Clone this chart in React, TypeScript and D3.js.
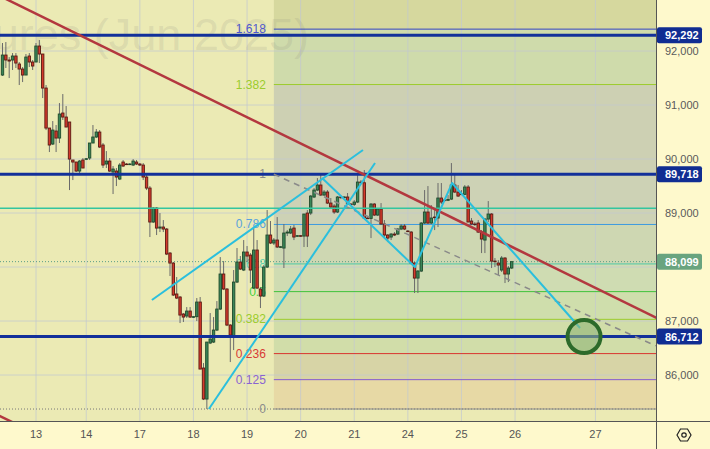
import React, { useEffect } from "react";
import * as d3 from "d3";

const W = 710;
const H = 449;
const PLOT_R = 656;
const PLOT_B = 421;

// OHLC candles, one array per trading day (Mar 2025, hourly)
const day12 = [
  [91555, 92148, 91537, 91925], [91925, 92166, 91685, 91833], [91833, 91888, 91499, 91814],
  [91833, 91962, 91648, 91907], [91907, 91962, 91685, 91777], [91759, 91796, 91370, 91666],
  [91666, 91703, 91425, 91555], [91555, 91944, 91555, 91888], [91907, 91962, 91703, 91796],
  [91796, 91833, 91648, 91722],
];
const day13 = [
  [91796, 92148, 91796, 92092], [92092, 92203, 91777, 91944], [91944, 91944, 91129, 91314],
  [91314, 91370, 90536, 90573], [90573, 90573, 90129, 90259], [90277, 90703, 90259, 90536],
  [90518, 90629, 90129, 90388], [90388, 91036, 90296, 90833], [90851, 91203, 90722, 90777],
  [90777, 90981, 90592, 90592], [90685, 90685, 89425, 89999], [89981, 89981, 89610, 89944],
  [89944, 89944, 89759, 89777], [89777, 89981, 89740, 89962], [89981, 90018, 89833, 89833],
];
const day14 = [
  [89999, 90018, 89981, 90005], [90018, 90296, 89981, 90296], [90296, 90629, 90296, 90407],
  [90407, 90555, 90388, 90499], [90499, 90536, 90203, 90222], [90259, 90296, 89833, 89888],
  [89907, 90147, 89833, 89962], [89962, 90018, 89759, 89777], [89759, 89870, 89351, 89814],
  [89777, 89833, 89499, 89666], [89629, 89925, 89610, 89888], [89944, 89981, 89851, 89870],
  [89907, 89925, 89888, 89900], [89900, 89925, 89888, 89907], [89888, 89999, 89870, 89962],
  [89944, 89981, 89888, 89907],
];
const day17 = [
  [89907, 89925, 89870, 89888], [89888, 89925, 89610, 89666], [89666, 89740, 89425, 89462],
  [89462, 89499, 88555, 88833], [88833, 89110, 88814, 89092], [89092, 89110, 88592, 88721],
  [88721, 88999, 88647, 88740], [88740, 88870, 88647, 88703], [88703, 88721, 88221, 88240],
  [88258, 88277, 87833, 88073], [88073, 88092, 87462, 87481], [87500, 87814, 87406, 87425],
  [87444, 87462, 86962, 87110], [87129, 87147, 86981, 87073], [87092, 87258, 87055, 87184],
  [87184, 87258, 87055, 87073],
];
const day18 = [
  [87073, 87092, 87055, 87080], [87080, 87425, 86999, 87351], [87351, 87444, 86110, 86110],
  [86129, 86221, 85536, 85555], [85555, 85555, 85370, 86610], [86592, 87147, 86573, 86666],
  [86610, 87073, 86592, 86832], [86832, 87369, 86814, 87221], [87221, 88184, 87203, 87870],
  [87870, 88110, 87573, 87592], [87592, 87610, 86906, 86925], [86925, 86943, 86240, 86740],
  [86703, 87944, 86462, 87721], [87721, 88351, 87703, 88092], [88092, 88203, 87944, 87962],
  [87944, 88499, 87925, 88277],
];
const day19 = [
  [88277, 88388, 88092, 88203], [88221, 88258, 87703, 87944], [87610, 88721, 87592, 88314],
  [88314, 88499, 87592, 87610], [87592, 87629, 87240, 87462], [87462, 88036, 87444, 87999],
  [87999, 89055, 87981, 88592], [88592, 88851, 88425, 88444], [88444, 88536, 88407, 88499],
  [88499, 88925, 88351, 88370], [88370, 88388, 88351, 88375], [88351, 88796, 87981, 88629],
  [88629, 88684, 88573, 88647], [88629, 88759, 88610, 88703], [88721, 88777, 88499, 88555],
  [88573, 88592, 88555, 88580],
];
const day20 = [
  [88580, 88592, 88555, 88573], [88573, 88981, 88370, 88981], [88999, 89055, 88370, 88573],
  [88999, 89333, 88962, 89314], [89296, 89462, 89277, 89425], [89425, 89647, 89406, 89518],
  [89518, 89740, 89314, 89333], [89333, 89425, 89314, 89388], [89388, 89425, 89166, 89184],
  [89184, 89277, 89092, 89110], [89129, 89166, 88981, 89018], [89018, 89314, 88999, 89296],
  [89296, 89333, 89258, 89290], [89290, 89314, 89277, 89296], [89296, 89370, 89147, 89166],
  [89166, 89184, 89147, 89160],
];
const day21 = [
  [89160, 89240, 89129, 89203], [89203, 89740, 89184, 89573], [89573, 89610, 89536, 89560],
  [89560, 89796, 88888, 88907], [88907, 88925, 88888, 88900], [88900, 89184, 88536, 89166],
  [89166, 89184, 88944, 88962], [88962, 89092, 88944, 89073], [89073, 89184, 88777, 88796],
  [88796, 88870, 88536, 88592], [88592, 88610, 88462, 88536], [88555, 88629, 88499, 88610],
  [88610, 88647, 88573, 88592], [88610, 88721, 88592, 88703], [88703, 88796, 88684, 88759],
  [88759, 88796, 88684, 88703],
];
const day24 = [
  [88666, 88684, 88647, 88660], [88647, 88666, 88055, 88073], [88073, 88092, 87518, 87795],
  [87795, 87944, 87518, 87925], [87925, 88833, 87907, 88814], [88814, 89425, 88796, 89018],
  [89018, 89499, 88796, 88814], [88814, 89147, 88796, 88907], [88925, 89055, 88684, 88920],
  [88907, 89555, 88740, 89277], [89277, 89555, 89166, 89203], [89240, 89258, 89221, 89235],
  [89235, 89333, 89221, 89250], [89258, 89925, 89240, 89518], [89518, 89703, 89370, 89388],
  [89388, 89518, 89296, 89314],
];
const day25 = [
  [89351, 89425, 89333, 89345], [89345, 89518, 89333, 89481], [89481, 89518, 88833, 88833],
  [88851, 88907, 88777, 88796], [88796, 88833, 88759, 88790], [88814, 88870, 88629, 88647],
  [88647, 88684, 88258, 88518], [88499, 88907, 88258, 88888], [88888, 89221, 88833, 88981],
  [88981, 88999, 87981, 88110], [88110, 88166, 87999, 88105], [88073, 88129, 87851, 88036],
  [87944, 88203, 87907, 88166], [88166, 88184, 87703, 87870], [87870, 88018, 87721, 87981],
  [87981, 88092, 87962, 88099],
];

const dayLabels = ["13", "14", "17", "18", "19", "20", "21", "24", "25", "26", "27"];
const dayStartBar = [10, 25, 41, 57, 73, 89, 105, 121, 137, 153, 177];
const priceTicks = [86000, 87000, 88000, 89000, 90000, 91000, 92000, 93000];

// horizontal levels
const blueLevels = [92292, 89718, 86712];
const tealLevel = 89090;
const lastPrice = 88099;

// fibonacci retracement (time start bar, 0 and 1 prices)
const fibStartBar = 81;
const fibZero = 85370;
const fibOne = 89718;
const fibRatios = [0, 0.125, 0.236, 0.382, 0.5, 0.618, 0.786, 1, 1.382, 1.618];
const fibLabels = ["0", "0.125", "0.236", "0.382", "0.5", "0.618", "0.786", "1", "1.382", "1.618"];
const fibLineColors = ["#8a8a8a", "#8458d0", "#d8342f", "#9ccc2c", "#3fc23a", "#4cc7a6", "#3d9be0", "#8a8a8a", "#9ccc2c", "#3344c4"];
const fibLabelColors = ["#8c8c8c", "#8a63d2", "#d83a36", "#9ccc2c", "#46d13f", "#5fd2b2", "#5aa2dc", "#8c8c8c", "#9ccc2c", "#5058cf"];
// band fills between ratio k and k+1 (last: above 1.618)
const fibBandColors = ["#e7d9a5", "#d7d4a6", "#d1dda9", "#cfdeac", "#cfdcb2", "#ced7b2", "#cdd2b5", "#cdd0b3", "#cfdbab", "#d6d89e"];

// drawings as [bar, price] points
const trendRed = [[-1, 93025], [196, 87036]];
const trendRed2 = [[-1, 85247], [4, 85095]];
const cyan1 = [[44.6, 87388], [107.6, 90166]];
const cyan2 = [[61.6, 85370], [111.2, 89925]];
const cyanZig = [[95.4, 89648], [123.1, 88000], [134.2, 89555], [172.4, 86870]];
const dashedGray = [[81, 89718], [195, 86540]];
const targetCircle = [173.6, 86712];

export default function App() {
  useEffect(() => {
    document.body.style.margin = "0";
  }, []);

  const candles = [day12, day13, day14, day17, day18, day19, day20, day21, day24, day25].flat();
  const x = d3.scaleLinear().domain([0, 195]).range([2.5, 2.5 + 195 * 3.35]);
  const y = d3.scaleLinear().domain([92000, 86000]).range([51, 375]);
  const line = d3.line<number[]>().x((d) => x(d[0])).y((d) => y(d[1]));

  const fibPrice = (r: number) => fibZero + r * (fibOne - fibZero);
  const fx0 = x(fibStartBar);
  const font = "'Liberation Sans', Arial, sans-serif";
  const boxLevels = [...blueLevels, lastPrice];
  const visibleTicks = priceTicks.filter(
    (p) => y(p) > 6 && y(p) < PLOT_B - 4 && boxLevels.every((b) => Math.abs(y(b) - y(p)) > 12)
  );

  return (
    <svg width={W} height={H} style={{ position: "absolute", left: 0, top: 0, display: "block" }} fontFamily={font}>
      <defs>
        <clipPath id="plot">
          <rect x={0} y={0} width={PLOT_R} height={PLOT_B} />
        </clipPath>
      </defs>
      <rect x={0} y={0} width={W} height={H} fill="#fef9cc" />
      <rect x={0} y={0} width={PLOT_R} height={PLOT_B} fill="#ebeab4" />

      <g clipPath="url(#plot)">
        {fibRatios.map((r, k) => {
          const yb = y(fibPrice(r));
          const yt = k < fibRatios.length - 1 ? y(fibPrice(fibRatios[k + 1])) : 0;
          return <rect key={"b" + k} x={fx0} y={yt} width={PLOT_R - fx0} height={yb - yt} fill={fibBandColors[k]} />;
        })}
        {dayStartBar.map((b, k) => (
          <line key={"gx" + k} x1={x(b)} x2={x(b)} y1={0} y2={PLOT_B} stroke="#c3c8cf" strokeOpacity={0.75} strokeWidth={1} />
        ))}
        {priceTicks.map((p) => (
          <line key={"gy" + p} x1={0} x2={PLOT_R} y1={y(p)} y2={y(p)} stroke="#c3c8cf" strokeOpacity={0.75} strokeWidth={1} />
        ))}
        <text x={309} y={50} textAnchor="end" fontSize={45} fill="#787878" fillOpacity={0.14}>
          Futures (Jun 2025)
        </text>
        <line x1={0} x2={PLOT_R} y1={y(fibZero)} y2={y(fibZero)} stroke="#777" strokeWidth={1} strokeDasharray="1 2" />
        <line x1={0} x2={PLOT_R} y1={y(lastPrice)} y2={y(lastPrice)} stroke="#5a9e86" strokeWidth={1} strokeDasharray="1 2" />
        {fibRatios.map((r, k) => (
          <line key={"fl" + k} x1={fx0} x2={PLOT_R} y1={y(fibPrice(r))} y2={y(fibPrice(r))} stroke={fibLineColors[k]} strokeWidth={1} />
        ))}
        {fibRatios.map((r, k) => (
          <text key={"ft" + k} x={fx0 - 8} y={y(fibPrice(r))} textAnchor="end" dominantBaseline="central" fontSize={12} fill={fibLabelColors[k]}>
            {fibLabels[k]}
          </text>
        ))}
        {candles.map((c, i) => {
          const [o, h, l, cl] = c;
          const up = cl >= o;
          const cx = x(i);
          const top = y(Math.max(o, cl));
          const bot = y(Math.min(o, cl));
          return (
            <g key={"c" + i}>
              <line x1={cx} x2={cx} y1={y(h)} y2={y(l)} stroke="#6a6a6a" strokeWidth={1} />
              <rect x={cx - 1.2} y={top} width={2.4} height={Math.max(0.6, bot - top)} fill={up ? "#3a8658" : "#d5392c"} stroke={up ? "#1f4a2c" : "#5a1a12"} strokeWidth={0.9} />
            </g>
          );
        })}
        <line x1={0} x2={PLOT_R} y1={y(tealLevel)} y2={y(tealLevel)} stroke="#33c59f" strokeWidth={1.5} />
        {blueLevels.map((p) => (
          <line key={"bl" + p} x1={0} x2={PLOT_R} y1={y(p)} y2={y(p)} stroke="#12309a" strokeWidth={3} />
        ))}
        <path d={line(dashedGray as any) || ""} stroke="#8a8a8a" strokeWidth={1.5} strokeDasharray="6 5" fill="none" />
        <path d={line(trendRed as any) || ""} stroke="#b3383f" strokeWidth={2.5} fill="none" />
        <path d={line(trendRed2 as any) || ""} stroke="#b3383f" strokeWidth={2.5} fill="none" />
        <path d={line(cyan1 as any) || ""} stroke="#2bbfdd" strokeWidth={2} fill="none" />
        <path d={line(cyan2 as any) || ""} stroke="#2bbfdd" strokeWidth={2} fill="none" />
        <path d={line(cyanZig as any) || ""} stroke="#2bbfdd" strokeWidth={2} fill="none" strokeLinejoin="round" />
        <circle cx={x(targetCircle[0])} cy={y(targetCircle[1])} r={16.5} fill="#8fb578" fillOpacity={0.6} stroke="#2c6a2a" strokeWidth={4} />
      </g>

      <line x1={PLOT_R + 0.5} x2={PLOT_R + 0.5} y1={0} y2={H} stroke="#555" strokeWidth={1} />
      <line x1={0} x2={W} y1={PLOT_B + 0.5} y2={PLOT_B + 0.5} stroke="#555" strokeWidth={1} />
      {visibleTicks.map((p) => (
        <text key={"pt" + p} x={665} y={y(p)} dominantBaseline="central" fontSize={11} fill="#5a5a5a">
          {d3.format(",")(p)}
        </text>
      ))}
      {dayStartBar.map((b, k) => (
        <text key={"dt" + k} x={x(b)} y={434} textAnchor="middle" dominantBaseline="central" fontSize={11} fill="#555">
          {dayLabels[k]}
        </text>
      ))}
      {blueLevels.map((p) => (
        <g key={"lab" + p}>
          <rect x={657} y={y(p) - 8} width={45} height={16} rx={2} fill="#102d92" />
          <text x={665} y={y(p)} dominantBaseline="central" fontSize={11} fontWeight="bold" fill="#fff">
            {d3.format(",")(p)}
          </text>
        </g>
      ))}
      <g>
        <rect x={657} y={y(lastPrice) - 8} width={45} height={16} rx={2} fill="#69a47f" />
        <text x={665} y={y(lastPrice)} dominantBaseline="central" fontSize={11} fontWeight="bold" fill="#fff">
          {d3.format(",")(lastPrice)}
        </text>
      </g>
      <polygon points="677,435 680.5,429 687.5,429 691,435 687.5,441 680.5,441" fill="none" stroke="#222" strokeWidth={1.2} />
      <circle cx={684} cy={435} r={2.2} fill="none" stroke="#222" strokeWidth={1.2} />
    </svg>
  );
}
